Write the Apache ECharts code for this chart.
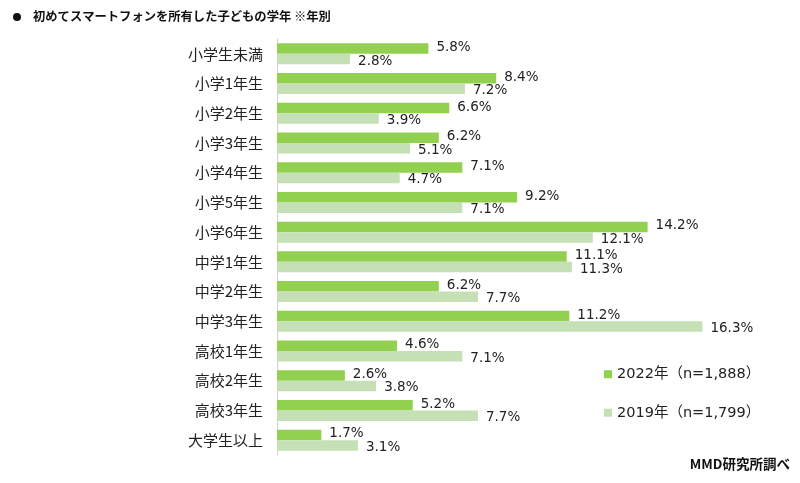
<!DOCTYPE html>
<html><head><meta charset="utf-8">
<script src="https://cdn.jsdelivr.net/npm/echarts@6/dist/echarts.min.js"></script>
<style>html,body{margin:0;padding:0;background:#fff}#c{width:800px;height:483px}</style>
</head><body><div id="c"></div>
<script>
const categories = ['小学生未満','小学1年生','小学2年生','小学3年生','小学4年生','小学5年生','小学6年生','中学1年生','中学2年生','中学3年生','高校1年生','高校2年生','高校3年生','大学生以上'];
const values2022 = [5.8,8.4,6.6,6.2,7.1,9.2,14.2,11.1,6.2,11.2,4.6,2.6,5.2,1.7];
const values2019 = [2.8,7.2,3.9,5.1,4.7,7.1,12.1,11.3,7.7,16.3,7.1,3.8,7.7,3.1];
const seriesNames = ['2022年（n=1,888）','2019年（n=1,799）'];
const title = '初めてスマートフォンを所有した子どもの学年 ※年別';
const source = 'MMD研究所調べ';

const FONT = '"Noto Sans CJK JP", "Noto Sans", sans-serif';
const NUMFONT = '"DejaVu Sans", "Noto Sans CJK JP", sans-serif';
const chart = echarts.init(document.getElementById('c'));
const lbl = (dy) => ({show:true, position:'right', distance:8, offset:[0,dy], formatter: p => p.value.toFixed(1)+'%', color:'#222', fontSize:13.5, fontFamily:NUMFONT});
chart.setOption({
  animation:false,
  textStyle:{fontFamily:FONT},
  graphic:[
    {type:'circle', shape:{cx:17, cy:17, r:4}, style:{fill:'#111'}},
    {type:'text', left:33, top:10, style:{text:title, font:'bold 12.3px '+FONT, fill:'#111'}},
    {type:'text', right:10, top:457, style:{text:source, font:'bold 13.5px '+FONT, fill:'#111'}}
  ],
  legend:{
    orient:'vertical', left:599, top:362, itemWidth:8, itemHeight:8, itemGap:24,
    icon:'rect',
    textStyle:{fontSize:14.5, color:'#222', fontFamily:NUMFONT},
    data:seriesNames
  },
  grid:{left:277, top:39, bottom:28, width:18*26.1, containLabel:false},
  xAxis:{type:'value', min:0, max:18, show:false},
  yAxis:{type:'category', data:categories, inverse:true,
    axisLine:{lineStyle:{color:'#d0d0d0'}}, axisTick:{show:false},
    axisLabel:{fontSize:15, color:'#222', margin:14, fontFamily:FONT}},
  series:[
    {name:seriesNames[0], type:'bar', data:values2022, barWidth:10.5, barGap:'0%', itemStyle:{color:'#92D050'}, label:lbl(-1)},
    {name:seriesNames[1], type:'bar', data:values2019, barWidth:10.5, barGap:'0%', itemStyle:{color:'#C5E0B4'}, label:lbl(2)}
  ]
});
</script></body></html>
